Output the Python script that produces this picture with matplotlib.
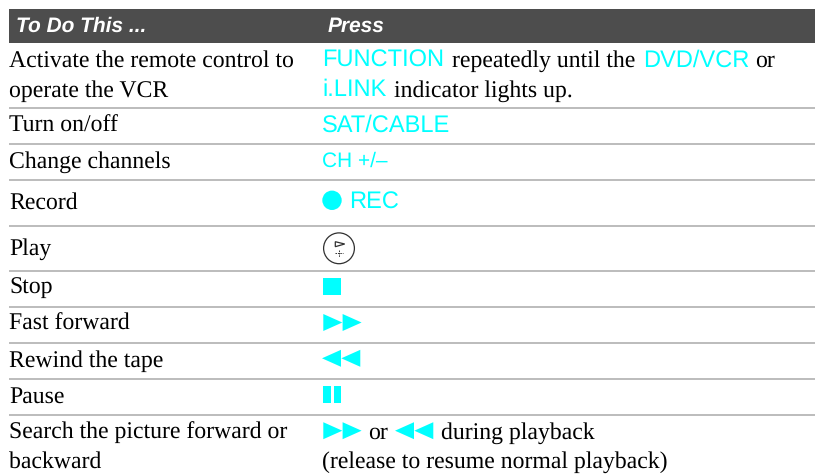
import matplotlib
matplotlib.use("Agg")
import matplotlib.pyplot as plt
from matplotlib.patches import Rectangle, Polygon, Circle

plt.rcParams["text.hinting"] = "no_hinting"

headers = ["To Do This ...", "Press"]
actions = [
    ["Activate the remote control to", "operate the VCR"],
    ["Turn on/off"],
    ["Change channels"],
    ["Record"],
    ["Play"],
    ["Stop"],
    ["Fast forward"],
    ["Rewind the tape"],
    ["Pause"],
    ["Search the picture forward or", "backward"],
]
rule_y = [107.7, 144, 180.3, 225.7, 270.7, 306.7, 342.7, 379, 414.7]
action_base = [[67, 96.5], [131.7], [167.7], [209], [254.5], [294], [330], [366.7], [402.7], [439, 468]]

CY = "#00FFFF"
SERIF = "Liberation Serif"
SANS = "Liberation Sans"
FS = 17.15
FB = 17

fig = plt.figure(figsize=(8.15, 4.75), dpi=100)
ax = fig.add_axes([0, 0, 1, 1])
ax.set_xlim(0, 815)
ax.set_ylim(475, 0)
ax.axis("off")

ax.add_patch(Rectangle((9, 9), 806, 34, fc="#4d4d4d", ec="none"))
ax.text(16, 31.5, headers[0], color="white", family=SANS, style="italic", weight="bold", fontsize=15, va="baseline")
ax.text(328, 31.5, headers[1], color="white", family=SANS, style="italic", weight="bold", fontsize=15, va="baseline")

for y in rule_y:
    ax.plot([9, 815], [y, y], color="#b0b0b0", lw=1.2, solid_capstyle="butt")

for lines, bases in zip(actions, action_base):
    for line, b in zip(lines, bases):
        ax.text(9, b, line, family=SERIF, fontsize=FS, color="black", va="baseline")

def runs(y, parts, size=FB):
    for x, s, cyan in parts:
        if cyan:
            ax.text(x, y, s, family=SANS, fontsize=size, color=CY, va="baseline")
        else:
            ax.text(x, y, s, family=SERIF, fontsize=FS, color="black", va="baseline")

def ff(x, y):
    for dx in (0, 19.3):
        ax.add_patch(Polygon([(x + dx, y - 8.5), (x + dx + 19, y), (x + dx, y + 8.5)], fc=CY, ec="none"))

def rw(x, y):
    for dx in (0, 19.3):
        ax.add_patch(Polygon([(x + dx + 19, y - 8.5), (x + dx, y), (x + dx + 19, y + 8.5)], fc=CY, ec="none"))

runs(67, [(322, "FUNCTION", True), (451.5, "repeatedly until the", False), (643, "DVD/VCR", True), (755, "or", False)])
runs(96.5, [(322, "i.LINK", True), (394, "indicator lights up.", False)])
runs(131.7, [(322, "SAT/CABLE", True)])
runs(167.2, [(322, "CH +/\u2013", True)], size=15)
ax.add_patch(Circle((332, 200.3), 9.7, fc=CY, ec="none"))
runs(209, [(349, "REC", True)])
ax.add_patch(Circle((339, 248.3), 15.4, fc="white", ec="#303030", lw=0.9))
ax.add_patch(Polygon([(335.3, 241.7), (344.7, 244), (335.3, 246.7)], fc="white", ec="#303030", lw=0.9))
ax.plot([339, 339], [249.5, 257], color="#303030", lw=0.7, ls=(0, (1.5, 1)))
ax.plot([335, 343], [253.3, 253.3], color="#303030", lw=0.7, ls=(0, (1.5, 1)))
ax.add_patch(Rectangle((323.3, 277.7), 17.4, 17.3, fc=CY, ec="none"))
ff(323.3, 322.5)
rw(322, 358.3)
ax.add_patch(Rectangle((323.3, 386), 7.4, 17.3, fc=CY, ec="none"))
ax.add_patch(Rectangle((334.3, 386), 7, 17.3, fc=CY, ec="none"))
ff(323.3, 430.7)
rw(395, 430.7)
runs(439, [(368.3, "or", False), (441, "during playback", False)])
runs(468, [(321.7, "(release to resume normal playback)", False)])

fig.savefig("out.png", dpi=100)
